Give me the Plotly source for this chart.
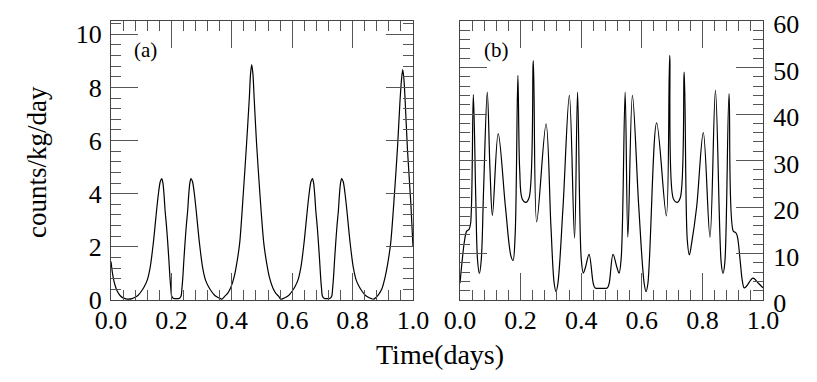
import plotly.graph_objects as go

# panel (a): time in days, counts/kg/day
time_a = [0.000, 0.005, 0.010, 0.015, 0.020, 0.030, 0.040, 0.050, 0.057, 0.070, 0.080, 0.090,
          0.100, 0.110, 0.120, 0.130, 0.140, 0.146, 0.151, 0.157, 0.163, 0.168, 0.172, 0.176,
          0.179, 0.184, 0.188, 0.192, 0.195, 0.198, 0.201, 0.206, 0.217, 0.227, 0.232, 0.235,
          0.238, 0.241, 0.245, 0.249, 0.254, 0.257, 0.261, 0.265, 0.270, 0.276, 0.282, 0.287,
          0.293, 0.303, 0.313, 0.323, 0.333, 0.343, 0.353, 0.363, 0.367, 0.376, 0.386, 0.396,
          0.408, 0.416, 0.426, 0.438, 0.449, 0.458, 0.462, 0.466, 0.470, 0.474, 0.482, 0.493,
          0.506, 0.516, 0.524, 0.536, 0.546, 0.556, 0.562, 0.569, 0.579, 0.589, 0.599, 0.609,
          0.619, 0.629, 0.639, 0.645, 0.650, 0.656, 0.662, 0.667, 0.671, 0.675, 0.678, 0.683,
          0.687, 0.691, 0.694, 0.697, 0.700, 0.705, 0.716, 0.726, 0.731, 0.734, 0.737, 0.740,
          0.744, 0.748, 0.753, 0.756, 0.760, 0.764, 0.769, 0.775, 0.781, 0.786, 0.792, 0.802,
          0.812, 0.822, 0.832, 0.842, 0.852, 0.862, 0.870, 0.878, 0.887, 0.897, 0.908, 0.916,
          0.926, 0.938, 0.949, 0.957, 0.962, 0.966, 0.970, 0.974, 0.982, 0.993, 1.000]
rate_a = [1.45, 1.00, 0.70, 0.50, 0.35, 0.17, 0.08, 0.04, 0.03, 0.05, 0.10, 0.18,
          0.32, 0.50, 0.75, 1.25, 2.13, 2.80, 3.38, 4.00, 4.45, 4.57, 4.40, 3.90,
          3.38, 2.75, 2.13, 1.45, 0.88, 0.45, 0.15, 0.07, 0.05, 0.07, 0.15, 0.45,
          0.88, 1.45, 2.13, 2.75, 3.38, 3.90, 4.40, 4.57, 4.45, 4.00, 3.38, 2.80,
          2.13, 1.25, 0.75, 0.50, 0.32, 0.18, 0.10, 0.05, 0.03, 0.13, 0.25, 0.45,
          0.88, 1.35, 2.13, 4.00, 5.90, 7.60, 8.50, 8.86, 8.50, 7.60, 5.90, 4.00,
          2.13, 1.35, 0.88, 0.45, 0.25, 0.13, 0.03, 0.05, 0.10, 0.18, 0.32, 0.50,
          0.75, 1.25, 2.13, 2.80, 3.38, 4.00, 4.45, 4.57, 4.40, 3.90, 3.38, 2.75,
          2.13, 1.45, 0.88, 0.45, 0.15, 0.07, 0.05, 0.07, 0.15, 0.45, 0.88, 1.45,
          2.13, 2.75, 3.38, 3.90, 4.40, 4.57, 4.45, 4.00, 3.38, 2.80, 2.13, 1.25,
          0.75, 0.50, 0.32, 0.18, 0.10, 0.05, 0.03, 0.10, 0.22, 0.42, 0.88, 1.35,
          2.13, 3.90, 5.80, 7.50, 8.30, 8.67, 8.30, 7.50, 5.60, 3.60, 2.00]

# panel (b)
time_b = [0.000, 0.008, 0.015, 0.022, 0.030, 0.035, 0.044, 0.052, 0.058, 0.064, 0.070, 0.078,
          0.090, 0.099, 0.107, 0.126, 0.150, 0.168, 0.175, 0.182, 0.191, 0.197, 0.205, 0.217,
          0.228, 0.242, 0.253, 0.284, 0.300, 0.311, 0.317, 0.323, 0.340, 0.361, 0.378, 0.388,
          0.400, 0.407, 0.414, 0.426, 0.440, 0.446, 0.466, 0.486, 0.492, 0.505, 0.518, 0.525,
          0.532, 0.545, 0.554, 0.569, 0.590, 0.608, 0.614, 0.620, 0.649, 0.681, 0.692, 0.704,
          0.716, 0.727, 0.740, 0.750, 0.757, 0.764, 0.781, 0.803, 0.825, 0.843, 0.862, 0.868,
          0.874, 0.888, 0.902, 0.910, 0.915, 0.925, 0.932, 0.938, 0.946, 0.967, 0.985, 1.000]
rate_b = [3.6, 9.0, 12.8, 14.8, 15.2, 16.5, 44.2, 22.0, 8.5, 5.7, 8.5, 24.0,
          44.7, 28.0, 18.2, 35.8, 20.0, 9.5, 8.5, 14.0, 48.3, 28.0, 21.8, 21.0,
          22.0, 51.5, 16.8, 37.9, 16.0, 3.5, 1.8, 3.5, 20.0, 44.0, 13.3, 44.7,
          9.0, 5.8, 7.0, 9.8, 3.5, 2.6, 2.5, 2.6, 3.5, 9.8, 7.0, 5.8,
          9.0, 44.7, 13.5, 44.0, 20.0, 3.5, 1.8, 3.5, 38.1, 18.1, 52.6, 21.8,
          21.0, 22.0, 49.0, 13.0, 9.7, 12.0, 20.0, 36.0, 13.5, 45.1, 8.0, 5.7,
          8.0, 44.4, 14.8, 14.5, 13.8, 8.2, 4.0, 2.6, 3.0, 4.7, 3.6, 2.6]

x_ticks = [0.0, 0.2, 0.4, 0.6, 0.8, 1.0]

# the page body has an 8px margin, so pixel targets are shifted by it
def px(x):
    return (x - 8) / 817

def py(y):
    return 1 - (y - 8) / 382

serif = "Liberation Serif"
font = dict(family=serif, size=26, color="black")
frame = dict(showline=True, linecolor="#444", linewidth=1.2, mirror="ticks",
             ticks="inside", ticklen=27, tickwidth=1, tickcolor="#555",
             showgrid=False, zeroline=False, tickfont=font, automargin=False)
minor_x = dict(dtick=0.04, ticklen=10, tickcolor="#555", ticks="inside")

fig = go.Figure()
fig.add_trace(go.Scatter(x=time_a, y=rate_a, mode="lines", xaxis="x", yaxis="y",
                         line=dict(color="black", width=1.2, shape="spline", smoothing=0.8)))
fig.add_trace(go.Scatter(x=time_b, y=rate_b, mode="lines", xaxis="x2", yaxis="y2",
                         line=dict(color="black", width=1.2, shape="spline", smoothing=1.0)))

fig.update_layout(
    width=817, height=382,
    margin=dict(l=0, r=0, t=0, b=0),
    showlegend=False,
    paper_bgcolor="white", plot_bgcolor="white",
    font=font,
    xaxis=dict(frame, domain=[px(111), px(413)], range=[0, 1], tickvals=x_ticks,
               tickformat=".1f", ticklabelstandoff=-3, minor=minor_x, anchor="y"),
    yaxis=dict(frame, domain=[py(300), py(21)], range=[0, 10.5], dtick=2,
               ticklabelstandoff=3,
               minor=dict(dtick=0.4, ticklen=10, tickcolor="#555", ticks="inside"), anchor="x"),
    xaxis2=dict(frame, domain=[px(460), px(763)], range=[0, 1], tickvals=x_ticks,
                tickformat=".1f", ticklabelstandoff=-3, minor=minor_x, anchor="y2"),
    yaxis2=dict(frame, domain=[py(300), py(21)], range=[0, 60], dtick=10, side="right",
                ticklabelshift=3, ticklabelstandoff=4,
                minor=dict(dtick=2, ticklen=10, tickcolor="#555", ticks="inside"), anchor="x2"),
    annotations=[
        dict(text="(a)", x=0.07, y=9.4, xref="x", yref="y", xanchor="left", showarrow=False,
             font=dict(family=serif, size=21, color="black")),
        dict(text="(b)", x=0.073, y=53.8, xref="x2", yref="y2", xanchor="left", showarrow=False,
             font=dict(family=serif, size=21, color="black")),
        dict(text="Time(days)", x=px(440), y=py(354), xref="paper", yref="paper",
             xanchor="center", yanchor="middle", showarrow=False,
             font=dict(family=serif, size=28, color="black")),
        dict(text="counts/kg/day", x=px(37), y=py(162), xref="paper", yref="paper",
             xanchor="center", yanchor="middle", textangle=-90, showarrow=False,
             font=dict(family=serif, size=27, color="black")),
    ],
)

fig.write_html("out.html")
